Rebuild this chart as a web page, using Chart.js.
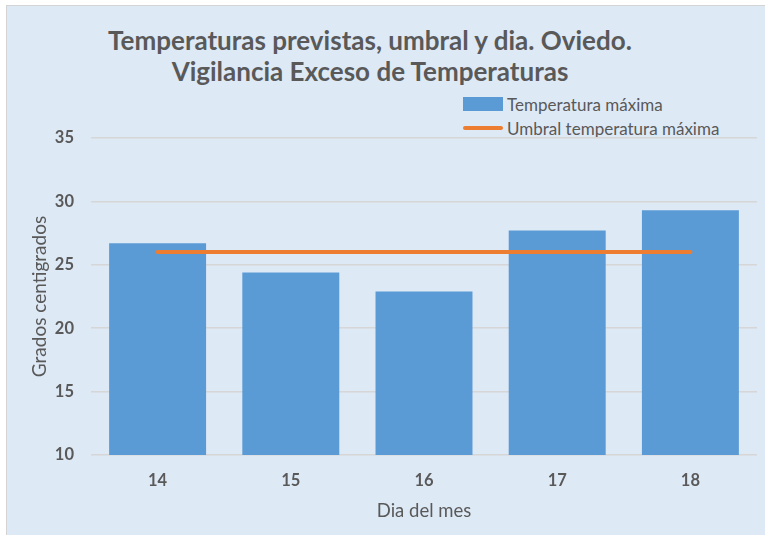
<!DOCTYPE html>
<html>
<head>
<meta charset="utf-8">
<script src="https://cdn.jsdelivr.net/npm/chart.js@4"></script>
<style>
  body { margin: 0; background: #fff; font-family: Lato, "Open Sans", sans-serif; }
  #frame { position: absolute; left: 6px; top: 5px; width: 770px; height: 540px;
           background: #dee9f6; border: 1px solid #d4d4d4; }
  #title { position: absolute; left: 0; top: 25px; width: 740px; text-align: center;
           font-weight: bold; font-size: 26px; line-height: 31px; color: #595959; }
  #legend { position: absolute; left: 463px; top: 92px; font-size: 17px; color: #595959; }
  #legend div { height: 24px; display: flex; align-items: center; }
  #legend span.sw { display: inline-block; width: 40px; margin-right: 4px; }
  #wrap { position: absolute; left: 0; top: 0; width: 765px; height: 535px; }
</style>
</head>
<body>
<div id="frame"></div>
<div id="title">Temperaturas previstas, umbral y dia. Oviedo.<br>Vigilancia Exceso de Temperaturas</div>
<div id="legend"></div>
<div id="wrap"><canvas id="graph-canvas"></canvas></div>
<script>
// datos
let dias = ['14', '15', '16', '17', '18'];
let temp_max = [26.7, 24.4, 22.9, 27.7, 29.3];
let umbral = [26, 26, 26, 26, 26];

let gris = '#595959';

let chartdata = {
  labels: dias,
  datasets: [
    {
      type: 'line',
      label: 'Umbral temperatura máxima',
      data: umbral,
      borderColor: '#ed7d31',
      backgroundColor: '#ed7d31',
      borderWidth: 4,
      borderCapStyle: 'round',
      pointRadius: 0,
      order: 0
    },
    {
      type: 'bar',
      label: 'Temperatura máxima',
      data: temp_max,
      backgroundColor: '#5b9bd5',
      borderWidth: 0,
      categoryPercentage: 1,
      barPercentage: 0.728,
      order: 1
    }
  ]
};

let barGraph = new Chart(document.getElementById('graph-canvas'), {
  data: chartdata,
  options: {
    responsive: true,
    maintainAspectRatio: false,
    animation: false,
    layout: { padding: { left: 20, right: 8, top: 138, bottom: 13 } },
    plugins: {
      legend: { display: false },
      tooltip: { enabled: false }
    },
    scales: {
      x: {
        offset: true,
        grid: { display: false, drawTicks: false },
        border: { display: false },
        ticks: { color: gris, padding: 16, maxRotation: 0, font: { family: 'Lato', size: 16.5, weight: 'bold' } },
        title: { display: true, text: 'Dia del mes', color: gris, padding: { top: 0, bottom: 0 },
                 font: { family: 'Lato', size: 18.5 } },
        afterFit: function (scale) { scale.height = 67; }
      },
      y: {
        min: 10,
        max: 35,
        ticks: { stepSize: 5, color: gris, padding: 17, font: { family: 'Lato', size: 16.5, weight: 'bold' } },
        grid: { color: '#d6d6d6', lineWidth: 1.5, drawTicks: false },
        border: { display: false },
        title: { display: true, text: 'Grados centigrados', color: gris, padding: { top: 8, bottom: 0 },
                 font: { family: 'Lato', size: 19 } },
        afterFit: function (scale) { scale.width = 71; }
      }
    }
  }
});

// leyenda en dos filas, como el original
let leg = document.getElementById('legend');
[chartdata.datasets[1], chartdata.datasets[0]].forEach(function (ds) {
  let row = document.createElement('div');
  let sw = document.createElement('span');
  sw.className = 'sw';
  if (ds.type === 'bar') {
    sw.style.height = '14px';
    sw.style.background = ds.backgroundColor;
  } else {
    sw.style.height = '4px';
    sw.style.borderRadius = '2px';
    sw.style.background = ds.borderColor;
  }
  row.appendChild(sw);
  row.appendChild(document.createTextNode(ds.label));
  leg.appendChild(row);
});
</script>
</body>
</html>
